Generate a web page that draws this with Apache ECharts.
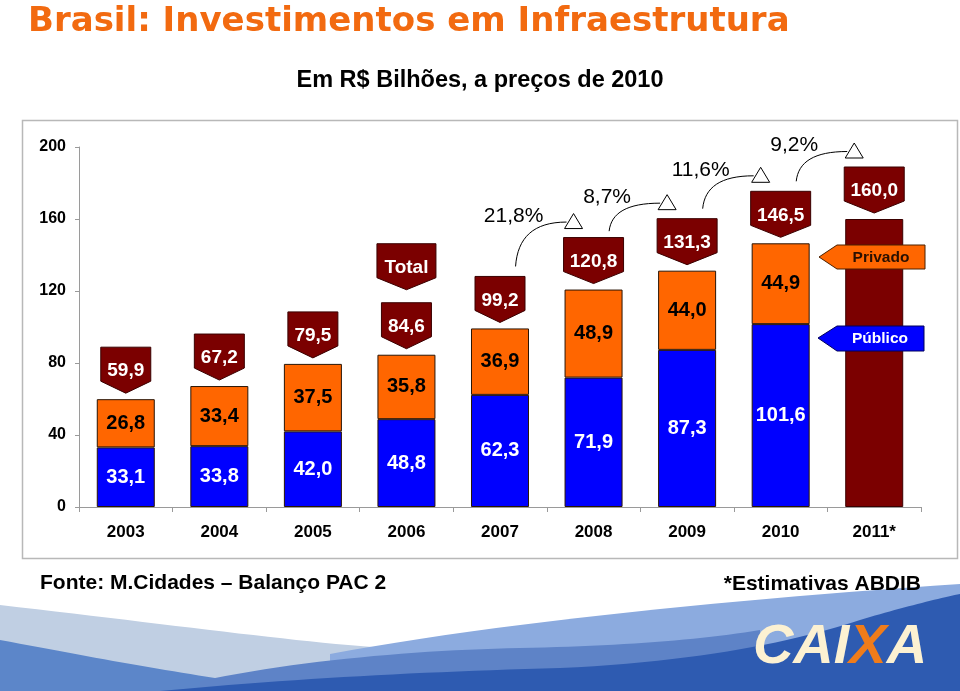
<!DOCTYPE html>
<html>
<head>
<meta charset="utf-8">
<script src="https://cdn.jsdelivr.net/npm/echarts@6/dist/echarts.min.js"></script>
<style>
html,body{margin:0;padding:0;background:#fff;}
#chart{width:960px;height:691px;}
</style>
</head>
<body>
<div id="chart"></div>
<script>
// ---- data ----
const categories = ['2003', '2004', '2005', '2006', '2007', '2008', '2009', '2010', '2011*'];
const publico = [33.1, 33.8, 42.0, 48.8, 62.3, 71.9, 87.3, 101.6, null];
const privado = [26.8, 33.4, 37.5, 35.8, 36.9, 48.9, 44.0, 44.9, null];
const estimativa = [null, null, null, null, null, null, null, null, 160.0];
const totals = [59.9, 67.2, 79.5, 84.6, 99.2, 120.8, 131.3, 146.5, 160.0];
const growthFromIndex = 5;
const growthLabels = ['21,8%', '8,7%', '11,6%', '9,2%'];
const totalTagIndex = 3;
const yMin = 0, yMax = 200, yInterval = 40;

const FONT = '"Liberation Sans", Arial, Helvetica, sans-serif';
const fmt = v => Number(v).toFixed(1).replace('.', ',');
const dash = arr => arr.map(v => v == null ? '-' : v);

const BLUE = '#0000FF', ORANGE = '#FF6600', DARKRED = '#7B0000', BORDER = '#2a1505';

// sample cubic bezier segments into points (decorative background waves)
function wave(start, segs, tail) {
  const pts = [start];
  let p0 = start;
  segs.forEach(s => {
    const [c1, c2, p3] = s;
    for (let k = 1; k <= 24; k++) {
      const t = k / 24, u = 1 - t;
      pts.push([
        u * u * u * p0[0] + 3 * u * u * t * c1[0] + 3 * u * t * t * c2[0] + t * t * t * p3[0],
        u * u * u * p0[1] + 3 * u * u * t * c1[1] + 3 * u * t * t * c2[1] + t * t * t * p3[1]
      ]);
    }
    p0 = p3;
  });
  return pts.concat(tail);
}

function callout(cx, tipY, w, text) {
  const bodyH = 34, tipH = 12;
  const top = tipY - bodyH - tipH;
  return {
    top: top,
    els: [
      { type: 'polygon', shape: { points: [[cx - w / 2, top], [cx + w / 2, top], [cx + w / 2, top + bodyH], [cx, tipY], [cx - w / 2, top + bodyH]] },
        style: { fill: DARKRED, stroke: '#3a0000', lineWidth: 1 } },
      { type: 'text', style: { text: text, x: cx, y: top + (bodyH + tipH) / 2 + 1, align: 'center', verticalAlign: 'middle', fill: '#fff', font: 'bold 19px ' + FONT } }
    ]
  };
}

const calloutData = totals.map((v, i) => [i, v]);
const growthData = growthLabels.map((t, k) => [growthFromIndex + k, totals[growthFromIndex + k], totals[growthFromIndex + k - 1], k]);

const chart = echarts.init(document.getElementById('chart'), null, { renderer: 'canvas' });

const option = {
  animation: false,
  backgroundColor: '#fff',
  grid: { left: 79, right: 39, top: 147, bottom: 184, containLabel: false },
  xAxis: {
    type: 'category',
    data: categories,
    axisLine: { lineStyle: { color: '#9a9a9a', width: 1 } },
    axisTick: { show: true, length: 5, lineStyle: { color: '#9a9a9a' } },
    axisLabel: { color: '#000', fontWeight: 'bold', fontSize: 17, fontFamily: FONT, margin: 17 }
  },
  yAxis: {
    type: 'value', min: yMin, max: yMax, interval: yInterval,
    axisLine: { show: true, lineStyle: { color: '#9a9a9a', width: 1 } },
    axisTick: { show: true, length: 4, lineStyle: { color: '#9a9a9a' } },
    splitLine: { show: false },
    axisLabel: { color: '#000', fontWeight: 'bold', fontSize: 16, fontFamily: FONT, margin: 13 }
  },
  graphic: [
    // bottom waves (decoration)
    { type: 'polygon', z: -10, shape: { points: wave([0, 605], [[[150, 622], [280, 640], [372, 647]]], [[372, 691], [0, 691]]) }, style: { fill: '#c0cfe3' } },
    { type: 'polygon', z: -10, shape: { points: wave([330, 654], [[[500, 622], [750, 598], [960, 584]]], [[960, 691], [330, 691]]) }, style: { fill: '#8cabdf' } },
    { type: 'polygon', z: -10, shape: { points: wave([0, 640], [[[80, 655], [150, 668], [215, 678]]], [[260, 691], [0, 691]]) }, style: { fill: '#5c86c9' } },
    { type: 'polygon', z: -10, shape: { points: wave([200, 681], [[[300, 660], [420, 650], [520, 648]], [[620, 646], [700, 640], [760, 630]]], [[760, 691], [200, 691]]) }, style: { fill: '#5e83c7' } },
    { type: 'polygon', z: -10, shape: { points: wave([160, 691], [[[300, 678], [420, 672], [560, 668]], [[700, 662], [800, 640], [860, 620]], [[900, 608], [940, 598], [960, 594]]], [[960, 691]]) }, style: { fill: '#2e5bb1' } },
    { type: 'text', z: -5, style: { text: '{c|CAI}{x|X}{c|A}', x: 840, y: 648, align: 'center', verticalAlign: 'middle',
        rich: { c: { fontSize: 56, fontWeight: 'bold', fontStyle: 'italic', fontFamily: FONT, fill: '#fcf1d2' },
                x: { fontSize: 56, fontWeight: 'bold', fontStyle: 'italic', fontFamily: FONT, fill: '#f07c1a' } } } },
    // chart frame
    { type: 'rect', z: -8, shape: { x: 22.5, y: 120.5, width: 935, height: 438 }, style: { fill: '#fff', stroke: '#b8b8b8', lineWidth: 1.5 } },
    // titles
    { type: 'text', z: 10, style: { text: 'Brasil: Investimentos em Infraestrutura', x: 28, y: 22, align: 'left', verticalAlign: 'middle', fill: '#F26A10', font: 'bold 34px "DejaVu Sans", Verdana, sans-serif' } },
    { type: 'text', z: 10, style: { text: 'Em R$ Bilhões, a preços de 2010', x: 480, y: 81, align: 'center', verticalAlign: 'middle', fill: '#000', font: 'bold 23.5px ' + FONT } },
    { type: 'text', z: 10, style: { text: 'Fonte: M.Cidades – Balanço PAC 2', x: 40, y: 583, align: 'left', verticalAlign: 'middle', fill: '#000', font: 'bold 21px ' + FONT } },
    { type: 'text', z: 10, style: { text: '*Estimativas ABDIB', x: 921, y: 584, align: 'right', verticalAlign: 'middle', fill: '#000', font: 'bold 21px ' + FONT } },
    // legend arrows
    { type: 'polygon', z: 20, shape: { points: [[819, 257], [837, 245], [925, 245], [925, 269], [837, 269]] }, style: { fill: ORANGE, stroke: '#4a2000', lineWidth: 1 } },
    { type: 'text', z: 21, style: { text: 'Privado', x: 881, y: 258, align: 'center', verticalAlign: 'middle', fill: '#2a1000', font: 'bold 15.5px ' + FONT } },
    { type: 'polygon', z: 20, shape: { points: [[818, 338], [837, 326], [924, 326], [924, 351], [837, 351]] }, style: { fill: BLUE, stroke: '#00005a', lineWidth: 1 } },
    { type: 'text', z: 21, style: { text: 'Público', x: 880, y: 339, align: 'center', verticalAlign: 'middle', fill: '#fff', font: 'bold 15.5px ' + FONT } }
  ],
  series: [
    {
      name: 'Público', type: 'bar', stack: 'a', barWidth: '62%', data: dash(publico),
      itemStyle: { color: BLUE, borderColor: BORDER, borderWidth: 1 },
      label: { show: true, position: 'inside', color: '#fff', fontWeight: 'bold', fontSize: 20, fontFamily: FONT, formatter: p => fmt(p.value) }
    },
    {
      name: 'Privado', type: 'bar', stack: 'a', barWidth: '62%', data: dash(privado),
      itemStyle: { color: ORANGE, borderColor: BORDER, borderWidth: 1 },
      label: { show: true, position: 'inside', color: '#000', fontWeight: 'bold', fontSize: 20, fontFamily: FONT, formatter: p => fmt(p.value) }
    },
    {
      name: 'Estimativa', type: 'bar', stack: 'a', barWidth: '62%', data: dash(estimativa),
      itemStyle: { color: DARKRED, borderColor: '#3a0000', borderWidth: 1 },
      label: { show: false }
    },
    {
      name: 'Total', type: 'custom', z: 5, clip: false, data: calloutData,
      renderItem: function (params, api) {
        const i = api.value(0), v = api.value(1);
        const p = api.coord([i, v]);
        const text = fmt(v);
        const c = callout(p[0], p[1] - 6, text.length > 4 ? 60 : 50, text);
        let els = c.els;
        if (i === totalTagIndex) {
          const t = callout(p[0], c.top - 13, 59, 'Total');
          els = els.concat(t.els);
        }
        return { type: 'group', children: els };
      }
    },
    {
      name: 'Crescimento', type: 'custom', z: 6, clip: false, data: growthData,
      renderItem: function (params, api) {
        const i = api.value(0), v = api.value(1), vPrev = api.value(2), k = api.value(3);
        const p = api.coord([i, v]);
        const pp = api.coord([i - 1, vPrev]);
        const triCx = p[0] - 20;
        const triBottom = p[1] - 52 - 9;
        const triCy = triBottom - 7.5;
        const sx = triCx - 58;
        const sy = Math.max(triCy + 29, pp[1] - 52 - 10);
        const ex = triCx - 7, ey = triCy + 1;
        return {
          type: 'group',
          children: [
            { type: 'bezierCurve', shape: { x1: sx, y1: sy, x2: ex, y2: ey, cpx1: sx + 2, cpy1: ey + (sy - ey) * 0.35, cpx2: sx + (ex - sx) * 0.35, cpy2: ey },
              style: { stroke: '#000', lineWidth: 1, fill: null } },
            { type: 'polygon', shape: { points: [[triCx - 9, triBottom], [triCx + 9, triBottom], [triCx, triBottom - 15]] },
              style: { fill: '#fff', stroke: '#000', lineWidth: 1 } },
            { type: 'text', style: { text: growthLabels[k], x: triCx - 60, y: triCy - 5, align: 'center', verticalAlign: 'middle', fill: '#000', font: '21px ' + FONT } }
          ]
        };
      }
    }
  ]
};
chart.setOption(option);
</script>
</body>
</html>
